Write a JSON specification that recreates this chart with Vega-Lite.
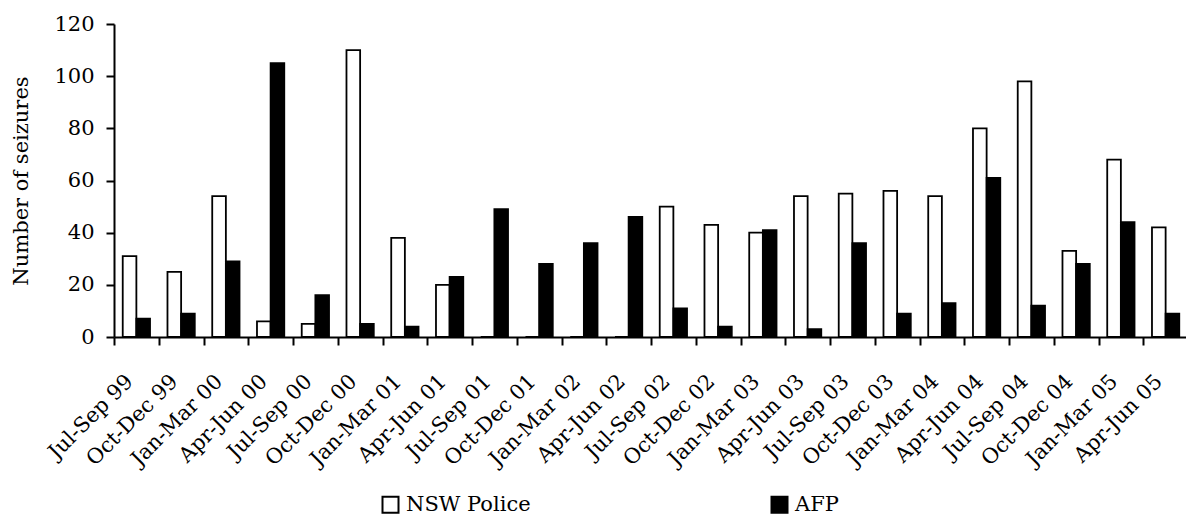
{
  "$schema": "https://vega.github.io/schema/vega-lite/v6.json",
  "width": 1074,
  "height": 313,
  "autosize": {"type": "none"},
  "padding": {"left": 114, "top": 24, "right": 0, "bottom": 178},
  "background": "white",
  "config": {
    "font": "DejaVu Serif",
    "view": {"stroke": null},
    "axis": {"domainColor": "black", "domainWidth": 2, "tickColor": "black", "tickWidth": 2, "tickSize": 8, "labelColor": "black", "labelFont": "DejaVu Serif", "labelFontSize": 21, "titleFont": "DejaVu Serif", "titleFontSize": 21, "titleFontWeight": "normal", "titleColor": "black", "grid": false}
  },
  "data": {"values": [
    {"period": "Jul-Sep 99", "agency": "NSW Police", "seizures": 31}, {"period": "Jul-Sep 99", "agency": "AFP", "seizures": 7},
    {"period": "Oct-Dec 99", "agency": "NSW Police", "seizures": 25}, {"period": "Oct-Dec 99", "agency": "AFP", "seizures": 9},
    {"period": "Jan-Mar 00", "agency": "NSW Police", "seizures": 54}, {"period": "Jan-Mar 00", "agency": "AFP", "seizures": 29},
    {"period": "Apr-Jun 00", "agency": "NSW Police", "seizures": 6}, {"period": "Apr-Jun 00", "agency": "AFP", "seizures": 105},
    {"period": "Jul-Sep 00", "agency": "NSW Police", "seizures": 5}, {"period": "Jul-Sep 00", "agency": "AFP", "seizures": 16},
    {"period": "Oct-Dec 00", "agency": "NSW Police", "seizures": 110}, {"period": "Oct-Dec 00", "agency": "AFP", "seizures": 5},
    {"period": "Jan-Mar 01", "agency": "NSW Police", "seizures": 38}, {"period": "Jan-Mar 01", "agency": "AFP", "seizures": 4},
    {"period": "Apr-Jun 01", "agency": "NSW Police", "seizures": 20}, {"period": "Apr-Jun 01", "agency": "AFP", "seizures": 23},
    {"period": "Jul-Sep 01", "agency": "NSW Police", "seizures": 0}, {"period": "Jul-Sep 01", "agency": "AFP", "seizures": 49},
    {"period": "Oct-Dec 01", "agency": "NSW Police", "seizures": 0}, {"period": "Oct-Dec 01", "agency": "AFP", "seizures": 28},
    {"period": "Jan-Mar 02", "agency": "NSW Police", "seizures": 0}, {"period": "Jan-Mar 02", "agency": "AFP", "seizures": 36},
    {"period": "Apr-Jun 02", "agency": "NSW Police", "seizures": 0}, {"period": "Apr-Jun 02", "agency": "AFP", "seizures": 46},
    {"period": "Jul-Sep 02", "agency": "NSW Police", "seizures": 50}, {"period": "Jul-Sep 02", "agency": "AFP", "seizures": 11},
    {"period": "Oct-Dec 02", "agency": "NSW Police", "seizures": 43}, {"period": "Oct-Dec 02", "agency": "AFP", "seizures": 4},
    {"period": "Jan-Mar 03", "agency": "NSW Police", "seizures": 40}, {"period": "Jan-Mar 03", "agency": "AFP", "seizures": 41},
    {"period": "Apr-Jun 03", "agency": "NSW Police", "seizures": 54}, {"period": "Apr-Jun 03", "agency": "AFP", "seizures": 3},
    {"period": "Jul-Sep 03", "agency": "NSW Police", "seizures": 55}, {"period": "Jul-Sep 03", "agency": "AFP", "seizures": 36},
    {"period": "Oct-Dec 03", "agency": "NSW Police", "seizures": 56}, {"period": "Oct-Dec 03", "agency": "AFP", "seizures": 9},
    {"period": "Jan-Mar 04", "agency": "NSW Police", "seizures": 54}, {"period": "Jan-Mar 04", "agency": "AFP", "seizures": 13},
    {"period": "Apr-Jun 04", "agency": "NSW Police", "seizures": 80}, {"period": "Apr-Jun 04", "agency": "AFP", "seizures": 61},
    {"period": "Jul-Sep 04", "agency": "NSW Police", "seizures": 98}, {"period": "Jul-Sep 04", "agency": "AFP", "seizures": 12},
    {"period": "Oct-Dec 04", "agency": "NSW Police", "seizures": 33}, {"period": "Oct-Dec 04", "agency": "AFP", "seizures": 28},
    {"period": "Jan-Mar 05", "agency": "NSW Police", "seizures": 68}, {"period": "Jan-Mar 05", "agency": "AFP", "seizures": 44},
    {"period": "Apr-Jun 05", "agency": "NSW Police", "seizures": 42}, {"period": "Apr-Jun 05", "agency": "AFP", "seizures": 9}
  ]},
  "mark": {"type": "bar", "stroke": "black", "strokeWidth": 1.8},
  "encoding": {
    "x": {"field": "period", "type": "nominal", "sort": null,
      "scale": {"paddingInner": 0, "paddingOuter": 0},
      "axis": {"title": null, "labelAngle": -45, "labelAlign": "right", "labelBaseline": "middle", "labelPadding": 33, "labelOffset": -7, "tickBand": "extent", "labelOverlap": false}},
    "xOffset": {"field": "agency", "type": "nominal", "sort": ["NSW Police", "AFP"], "scale": {"paddingInner": 0, "paddingOuter": 0.64}},
    "y": {"field": "seizures", "type": "quantitative",
      "scale": {"domain": [0, 120], "nice": false},
      "axis": {"title": "Number of seizures", "values": [0, 20, 40, 60, 80, 100, 120], "labelPadding": 12, "titlePadding": 22}},
    "color": {"field": "agency", "type": "nominal", "sort": ["NSW Police", "AFP"],
      "scale": {"domain": ["NSW Police", "AFP"], "range": ["white", "black"]},
      "legend": {"title": null, "orient": "none", "legendX": 266, "legendY": 470, "direction": "horizontal", "columns": 2, "columnPadding": 236, "padding": 0,
        "symbolType": "square", "symbolSize": 256, "symbolStrokeColor": "black", "symbolStrokeWidth": 2, "symbolOpacity": 1,
        "labelFont": "DejaVu Serif", "labelFontSize": 21, "labelColor": "black", "labelOffset": 5, "labelLimit": 300}}
  }
}
